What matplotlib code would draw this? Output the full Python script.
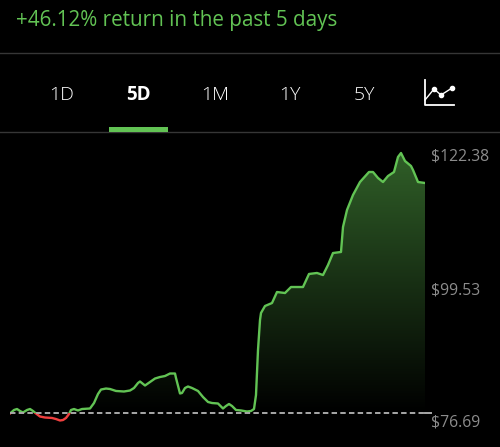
import numpy as np
import matplotlib
matplotlib.use("Agg")
import matplotlib.pyplot as plt
from matplotlib.colors import LinearSegmentedColormap
from matplotlib.patches import Polygon, Rectangle

GREEN = "#62c354"
RED = "#f0403f"

title = "+46.12% return in the past 5 days"
tabs = ["1D", "5D", "1M", "1Y", "5Y"]
tab_x = [61.5, 138, 215, 290, 364]
price_labels = ["$122.38", "$99.53", "$76.69"]
price_ticks = [122.38, 99.53, 76.69]
base_price = 78.05

# time steps along the 5 days
time = [0, 4, 7, 10, 13, 17, 20, 23, 26, 30, 35, 42, 46, 50, 53, 56, 59, 61, 64,
        68, 72, 80, 84, 88, 91, 96, 100, 106, 114, 120, 124, 128, 130, 135, 140,
        145, 150, 155, 160, 165, 166, 170, 172, 175, 178, 182, 188, 193, 198,
        202, 208, 213, 216, 219, 222, 226, 231, 237, 241, 244, 246, 248, 250,
        251, 255, 262, 267, 275, 281, 293, 299, 307, 313, 318, 323, 331, 333,
        337, 343, 350, 359, 363, 368, 373, 378, 384, 388, 391, 395, 401, 403,
        408, 415]
price = [77.97, 78.57, 78.74, 78.40, 78.14, 78.57, 78.74, 78.40, 77.97, 77.45,
         77.28, 77.20, 77.02, 76.77, 76.85, 77.20, 77.88, 78.57, 78.74, 78.49,
         78.74, 78.83, 79.77, 81.32, 82.09, 82.26, 82.18, 81.84, 81.75, 81.92,
         82.35, 83.21, 83.47, 82.78, 83.38, 83.98, 84.24, 84.41, 84.84, 84.84,
         84.07, 81.41, 81.49, 82.35, 82.61, 82.35, 81.84, 80.80, 79.95, 79.77,
         79.69, 78.83, 79.26, 79.60, 79.26, 78.57, 78.49, 78.31, 78.40, 78.74,
         81.15, 88.88, 94.03, 95.24, 96.44, 96.95, 98.84, 98.67, 99.70, 99.70,
         101.94, 102.11, 101.76, 103.48, 105.54, 105.72, 110.01, 112.93, 115.51,
         117.74, 119.46, 119.46, 118.43, 117.74, 118.77, 119.46, 122.04, 122.72,
         121.35, 120.49, 119.80, 117.74, 117.57]

time = np.array(time, dtype=float)
price = np.array(price)

fig = plt.figure(figsize=(5, 4.47), dpi=100, facecolor="black")
plt.rcParams["font.family"] = ["Open Sans", "DejaVu Sans"]

# page furniture, laid out in pixels
bg = fig.add_axes([0, 0, 1, 1])
bg.set_xlim(0, 500)
bg.set_ylim(447, 0)
bg.axis("off")
bg.axhline(52.5, color="#363636", lw=1)
bg.axhline(132, color="#363636", lw=1)
bg.add_patch(Rectangle((109, 127), 59, 5, color=GREEN, lw=0, zorder=3))

bg.text(16, 20.5, title, color=GREEN, fontsize=14.9, va="center", ha="left")
for label, x in zip(tabs, tab_x):
    bold = label == "5D"
    bg.text(x, 94.5, label, color="white", fontsize=13.5 if bold else 14,
            ha="center", va="center", fontweight="bold" if bold else "light")

# little chart icon
bg.plot([425, 425, 454], [80, 105, 105], color="white", lw=1.3)
bg.plot([425, 434, 441, 452], [100, 89, 95, 88], color="white", lw=1.0,
        marker="o", markersize=3, markevery=[1, 2, 3])

# chart itself
ax = fig.add_axes([10 / 500, 1 - 430 / 447, 415 / 500, 297 / 447])
ax.set_facecolor("none")
ax.set_xlim(0, 415)
ax.set_ylim(122.38 - (430 - 155) * 0.1718, 122.38 + (155 - 133) * 0.1718)
ax.axis("off")

cmap = LinearSegmentedColormap.from_list("fade", ["#000000", "#305f28"])
grad = np.linspace(1, 0, 256).reshape(-1, 1)
img = ax.imshow(grad, cmap=cmap, aspect="auto", vmin=0, vmax=1,
                extent=(0, 415, base_price, price.max()), zorder=1)
area = np.column_stack([np.r_[time, time[-1], time[0]],
                        np.r_[np.maximum(price, base_price), base_price, base_price]])
img.set_clip_path(Polygon(area, transform=ax.transData))
ax.set_xlim(0, 415)
ax.set_ylim(122.38 - (430 - 155) * 0.1718, 122.38 + (155 - 133) * 0.1718)

ymin, ymax = ax.get_ylim()
up, = ax.plot(time, price, color=GREEN, lw=1.7, zorder=3, solid_joinstyle="round")
down, = ax.plot(time, price, color=RED, lw=1.7, zorder=3, solid_joinstyle="round")
up.set_clip_path(Rectangle((0, base_price), 415, ymax - base_price, transform=ax.transData))
down.set_clip_path(Rectangle((0, ymin), 415, base_price - ymin, transform=ax.transData))
ax.plot([0, 415], [base_price, base_price], color="#a8a8a8", lw=1.4,
        dashes=(2.8, 1.67), zorder=4)
ax.plot([415, 421], [base_price, base_price], color="#a8a8a8", lw=1.4, clip_on=False, zorder=4)

for label, value in zip(price_labels, price_ticks):
    ax.annotate(label, (415, value), xytext=(6, -2), textcoords="offset pixels",
                color="#8c8c8c", fontsize=11.3, va="center", ha="left",
                annotation_clip=False)

fig.savefig("out.png", dpi=100, facecolor="black")
